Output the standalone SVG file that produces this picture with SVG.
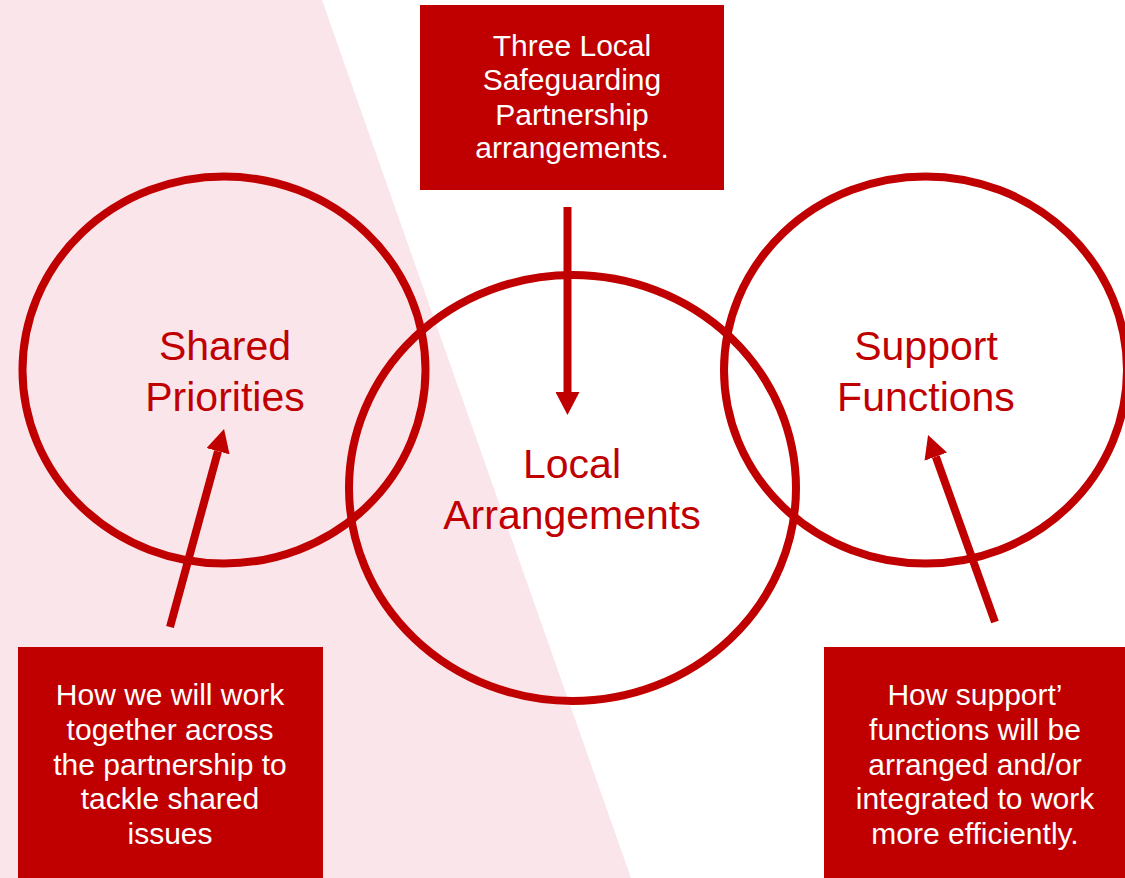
<svg xmlns="http://www.w3.org/2000/svg" width="1125" height="878" viewBox="0 0 1125 878">
  <style>
    .ring { fill: none; stroke: #C00000; stroke-width: 8; }
    .box { fill: #C00000; }
    .label { font-family: "Liberation Sans", Arial, sans-serif; font-size: 41px; fill: #C00000; text-anchor: middle; }
    .boxtext { font-family: "Liberation Sans", Arial, sans-serif; font-size: 30px; fill: #FFFFFF; text-anchor: middle; }
    .conn { fill: none; stroke: #C00000; stroke-width: 8; stroke-linecap: butt; }
  </style>
  <defs>
    <marker id="head" viewBox="0 0 23 24" refX="0" refY="12" markerWidth="23" markerHeight="24" markerUnits="userSpaceOnUse" orient="auto">
      <path d="M0,0 L23,12 L0,24 Z" fill="#C00000"/>
    </marker>
  </defs>
  <rect x="0" y="0" width="1125" height="878" fill="#FFFFFF"/>
  <polygon id="band" points="0,0 322,0 631,878 0,878" fill="#F9E5EA"/>

  <g id="shared-priorities">
    <ellipse class="ring" cx="224" cy="370" rx="201.5" ry="193.5"/>
    <text class="label" x="225" y="360">Shared</text>
    <text class="label" x="225" y="411">Priorities</text>
  </g>
  <g id="local-arrangements">
    <ellipse class="ring" cx="572.5" cy="488" rx="223.5" ry="213"/>
    <text class="label" x="572" y="478">Local</text>
    <text class="label" x="572" y="529">Arrangements</text>
  </g>
  <g id="support-functions">
    <ellipse class="ring" cx="925.5" cy="370" rx="201.5" ry="193.5"/>
    <text class="label" x="926" y="360">Support</text>
    <text class="label" x="926" y="411">Functions</text>
  </g>

  <g id="box-top">
    <rect class="box" x="420" y="5" width="304" height="185"/>
    <text class="boxtext" x="572" y="56">Three Local</text>
    <text class="boxtext" x="572" y="90">Safeguarding</text>
    <text class="boxtext" x="572" y="125">Partnership</text>
    <text class="boxtext" x="572" y="158">arrangements.</text>
  </g>
  <g id="box-left">
    <rect class="box" x="18" y="647" width="305" height="231"/>
    <text class="boxtext" x="170" y="705">How we will work</text>
    <text class="boxtext" x="170" y="740">together across</text>
    <text class="boxtext" x="170" y="775">the partnership to</text>
    <text class="boxtext" x="170" y="809">tackle shared</text>
    <text class="boxtext" x="170" y="844">issues</text>
  </g>
  <g id="box-right">
    <rect class="box" x="824" y="647" width="301" height="231"/>
    <text class="boxtext" x="975" y="705">How support’</text>
    <text class="boxtext" x="975" y="740">functions will be</text>
    <text class="boxtext" x="975" y="775">arranged and/or</text>
    <text class="boxtext" x="975" y="809">integrated to work</text>
    <text class="boxtext" x="975" y="844">more efficiently.</text>
  </g>

  <g id="connectors">
    <path class="conn" d="M567.5,207 L567.5,392" marker-end="url(#head)"/>
    <path class="conn" d="M170,627 L218,451.2" marker-end="url(#head)"/>
    <path class="conn" d="M995,622 L935.8,456.6" marker-end="url(#head)"/>
  </g>
</svg>
